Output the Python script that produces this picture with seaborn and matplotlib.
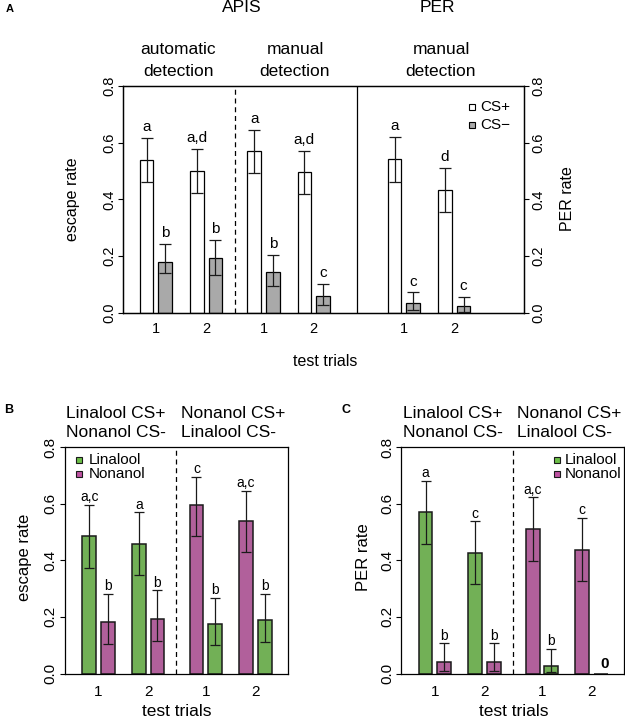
import numpy as np
import pandas as pd
import matplotlib
matplotlib.use("Agg")
import matplotlib.pyplot as plt
import seaborn as sns
from matplotlib.lines import Line2D

sns.set_theme(style="ticks")
plt.rcParams["font.family"] = ["Liberation Sans", "DejaVu Sans"]
plt.rcParams["text.color"] = "black"
plt.rcParams["axes.labelcolor"] = "black"

# ---------------- data ----------------
# Panel A: order = section, trial, condition
a_section = ["automatic", "automatic", "automatic", "automatic",
             "manual", "manual", "manual", "manual",
             "PER", "PER", "PER", "PER"]
a_trial = [1, 1, 2, 2, 1, 1, 2, 2, 1, 1, 2, 2]
a_cond = ["CS+", "CS−"] * 6
a_mean = [0.540, 0.178, 0.501, 0.192, 0.571, 0.145, 0.495, 0.059, 0.544, 0.035, 0.433, 0.024]
a_low = [0.462, 0.139, 0.424, 0.132, 0.492, 0.094, 0.419, 0.027, 0.461, 0.009, 0.355, 0.002]
a_high = [0.618, 0.242, 0.578, 0.256, 0.646, 0.205, 0.572, 0.102, 0.621, 0.072, 0.512, 0.056]
a_letters = ["a", "b", "a,d", "b", "a", "b", "a,d", "c", "a", "c", "d", "c"]

# Panels B and C: order = group, trial, odor
bc_group = [0, 0, 0, 0, 1, 1, 1, 1]
bc_trial = [1, 1, 2, 2, 1, 1, 2, 2]
bc_odor = ["Linalool", "Nonanol", "Linalool", "Nonanol",
           "Nonanol", "Linalool", "Nonanol", "Linalool"]
b_mean = [0.484, 0.182, 0.459, 0.193, 0.594, 0.176, 0.539, 0.188]
b_low = [0.371, 0.103, 0.348, 0.114, 0.486, 0.102, 0.430, 0.113]
b_high = [0.596, 0.281, 0.570, 0.294, 0.695, 0.268, 0.645, 0.282]
b_letters = ["a,c", "b", "a", "b", "c", "b", "a,c", "b"]

c_mean = [0.569, 0.040, 0.425, 0.040, 0.510, 0.028, 0.436, 0.0]
c_low = [0.456, 0.009, 0.317, 0.009, 0.396, 0.004, 0.325, 0.0]
c_high = [0.680, 0.106, 0.538, 0.106, 0.623, 0.088, 0.550, 0.0]
c_letters = ["a", "b", "c", "b", "a,c", "b", "c", ""]

# ---------------- layout helpers ----------------
W, H = 625, 721
def fx(x): return x / W
def fy(y): return 1 - y / H

fig = plt.figure(figsize=(W / 100, H / 100), dpi=100)
fig.patch.set_facecolor("white")

def style_axis(ax, tick_fs):
    for s in ax.spines.values():
        s.set_visible(True)
        s.set_color("black")
        s.set_linewidth(0.9)
    ax.set_ylim(0, 0.8)
    ax.set_yticks([0, 0.2, 0.4, 0.6, 0.8])
    ax.set_yticklabels(["0.0", "0.2", "0.4", "0.6", "0.8"])
    ax.tick_params(axis="y", direction="out", length=3.6, width=0.8, pad=1.5,
                   labelsize=tick_fs, labelrotation=90, colors="black")
    for lab in ax.get_yticklabels():
        lab.set_va("center")
    ax.tick_params(axis="x", length=0, pad=7, labelsize=tick_fs, colors="black")
    ax.set_xlabel("")
    ax.set_ylabel("")
    ax.set_facecolor("white")

# ---------------- Panel A ----------------
axA = fig.add_axes([fx(123), fy(312.7), 401 / W, 226.7 / H])
sec_start = {"automatic": 1.27, "manual": 7.05, "PER": 14.6}
trial_step, cond_step = 2.7, 1.0
a_pos = [sec_start[s] + (t - 1) * trial_step + (0 if c == "CS+" else cond_step)
         for s, t, c in zip(a_section, a_trial, a_cond)]
dfA = pd.DataFrame({"pos": a_pos, "mean": a_mean, "low": a_low, "high": a_high,
                    "cond": a_cond})
sns.barplot(data=dfA, x="pos", y="mean", hue="cond", native_scale=True,
            palette={"CS+": "white", "CS−": "#a9a9a9"}, width=0.73, dodge=False,
            errorbar=None, edgecolor="black", linewidth=0.9, legend=False, ax=axA)
axA.errorbar(dfA["pos"], dfA["mean"],
             yerr=[dfA["mean"] - dfA["low"], dfA["high"] - dfA["mean"]],
             fmt="none", ecolor="#1a1a1a", elinewidth=0.9, capsize=4.2, capthick=0.9, zorder=3)
for p, hi, l in zip(a_pos, a_high, a_letters):
    axA.annotate(l, (p, hi), xytext=(0, 4.8), textcoords="offset points",
                 ha="center", va="baseline", fontsize=11)
axA.set_xlim(0, 21.55)
style_axis(axA, 10.5)
pair_centers_A = sorted(set(round(p, 3) for p, c in zip(a_pos, a_cond) if c == "CS+"))
axA.set_xticks([p + cond_step / 2 for p in pair_centers_A])
axA.set_xticklabels([str(t) for t, c in zip(a_trial, a_cond) if c == "CS+"])
axA.axvline(6.0, color="black", lw=0.9, ls=(0, (4, 3)))
axA.axvline(12.56, color="black", lw=0.9)
# right axis for PER
axA2 = axA.twinx()
axA2.set_ylim(0, 0.8)
axA2.set_yticks([0, 0.2, 0.4, 0.6, 0.8])
axA2.set_yticklabels(["0.0", "0.2", "0.4", "0.6", "0.8"])
axA2.tick_params(axis="y", direction="out", length=3.6, width=0.8, pad=1.5,
                 labelsize=10.5, labelrotation=90, colors="black")
for lab in axA2.get_yticklabels():
    lab.set_va("center")
for s in axA2.spines.values():
    s.set_color("black"); s.set_linewidth(0.9)
axA2.grid(False)

fig.text(fx(10), fy(9), "A", fontsize=8, fontweight="bold", ha="center", va="center")
fig.text(fx(242), fy(8), "APIS", fontsize=12.5, ha="center", va="center")
fig.text(fx(437), fy(8), "PER", fontsize=12.5, ha="center", va="center")
for x, t in [(178, "automatic"), (295, "manual"), (441, "manual")]:
    fig.text(fx(x), fy(50), t, fontsize=12.5, ha="center", va="center")
    fig.text(fx(x), fy(72), "detection", fontsize=12.5, ha="center", va="center")
fig.text(fx(73), fy(199), "escape rate", fontsize=11.5, rotation=90, ha="center", va="center")
fig.text(fx(568), fy(199), "PER rate", fontsize=11.5, rotation=90, ha="center", va="center")
fig.text(fx(325), fy(361), "test trials", fontsize=11.5, ha="center", va="center")
# legend A
for y, lab, col in [(107, "CS+", "white"), (125, "CS−", "#a9a9a9")]:
    fig.add_artist(Line2D([fx(472)], [fy(y)], marker="s", markersize=4.3,
                          markerfacecolor=col, markeredgecolor="black",
                          markeredgewidth=0.8, linestyle="none", transform=fig.transFigure))
    fig.text(fx(480), fy(y), lab, fontsize=11, ha="left", va="center")

# ---------------- Panels B and C ----------------
odor_colors = {"Linalool": "#6cbf47", "Nonanol": "#be52a2"}
grp_start = [1.32, 7.07]
bc_trial_step = 2.66
bc_pos = []
for g, t, i in zip(bc_group, bc_trial, range(len(bc_group))):
    first = (i % 2 == 0)
    bc_pos.append(grp_start[g] + (t - 1) * bc_trial_step + (0 if first else cond_step))

def draw_bc(rect, mean, low, high, letters, ylabel, ylab_xy, xlab_xy, head_x, legend_spec):
    ax = fig.add_axes(rect)
    df = pd.DataFrame({"pos": bc_pos, "mean": mean, "low": low, "high": high, "odor": bc_odor})
    sns.barplot(data=df, x="pos", y="mean", hue="odor", native_scale=True,
                palette=odor_colors, width=0.74, dodge=False, errorbar=None,
                edgecolor="#1a1a1a", linewidth=1.1, legend=False, ax=ax)
    m = df["high"] > 0
    ax.errorbar(df["pos"][m], df["mean"][m],
                yerr=[(df["mean"] - df["low"])[m], (df["high"] - df["mean"])[m]],
                fmt="none", ecolor="#1a1a1a", elinewidth=0.9, capsize=3.3, capthick=0.9, zorder=3)
    for p, hi, l in zip(bc_pos, high, letters):
        if l:
            ax.annotate(l, (p, hi), xytext=(0, 2.6), textcoords="offset points",
                        ha="center", va="baseline", fontsize=10)
    ax.set_xlim(0, 11.95)
    style_axis(ax, 11)
    ax.tick_params(axis="x", pad=8)
    firsts = [p for i, p in enumerate(bc_pos) if i % 2 == 0]
    ax.set_xticks([p + cond_step / 2 for p in firsts])
    ax.set_xticklabels([str(t) for i, t in enumerate(bc_trial) if i % 2 == 0])
    ax.axvline(6.0, color="black", lw=0.9, ls=(0, (4, 3)))
    fig.text(fx(ylab_xy[0]), fy(ylab_xy[1]), ylabel, fontsize=12, rotation=90,
             ha="center", va="center")
    fig.text(fx(xlab_xy[0]), fy(xlab_xy[1]), "test trials", fontsize=12.5,
             ha="center", va="center")
    fig.text(fx(head_x[0]), fy(413), "Linalool CS+", fontsize=12.5, ha="left", va="center")
    fig.text(fx(head_x[0]), fy(433), "Nonanol CS-", fontsize=12.5, ha="left", va="center")
    fig.text(fx(head_x[1]), fy(413), "Nonanol CS+", fontsize=12.5, ha="left", va="center")
    fig.text(fx(head_x[1]), fy(433), "Linalool CS-", fontsize=12.5, ha="left", va="center")
    mx, tx = legend_spec
    for y, lab in [(460, "Linalool"), (474, "Nonanol")]:
        fig.add_artist(Line2D([fx(mx)], [fy(y)], marker="s", markersize=5,
                              markerfacecolor=odor_colors[lab], markeredgecolor="#1a1a1a",
                              markeredgewidth=0.8, linestyle="none",
                              transform=fig.transFigure))
        fig.text(fx(tx), fy(y), lab, fontsize=11, ha="left", va="center")
    return ax

axB = draw_bc([fx(64.5), fy(673.5), 223 / W, 226.5 / H], b_mean, b_low, b_high, b_letters,
              "escape rate", (25, 557), (177, 712), (66, 181), (79, 89))
axC = draw_bc([fx(401), fy(673.5), 222.5 / W, 226.5 / H], c_mean, c_low, c_high, c_letters,
              "PER rate", (363, 557), (514, 712), (403, 517), (557, 565))
# zero bar label
zero_idx = [i for i, v in enumerate(c_mean) if v == 0][0]
axC.annotate("0", (bc_pos[zero_idx], 0), xytext=(3, 4), textcoords="offset points",
             ha="center", va="baseline", fontsize=11, fontweight="bold")

fig.text(fx(9), fy(410), "B", fontsize=9, fontweight="bold", ha="center", va="center")
fig.text(fx(346), fy(410), "C", fontsize=9, fontweight="bold", ha="center", va="center")

fig.savefig("out.png", dpi=100, facecolor="white")
